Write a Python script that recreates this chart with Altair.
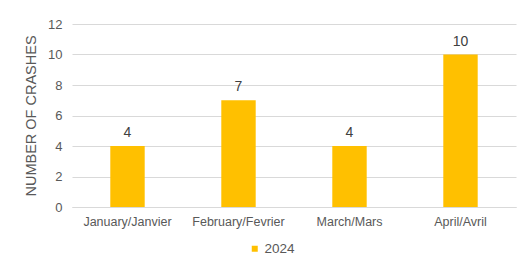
import altair as alt
import pandas as pd

months = ["January/Janvier", "February/Fevrier", "March/Mars", "April/Avril"]
crashes = [4, 7, 4, 10]
series = ["2024"] * 4

df = pd.DataFrame({"month": months, "crashes": crashes, "year": series})

FONT = "Liberation Sans"
GOLD = "#FFC000"

base = alt.Chart(df).encode(
    x=alt.X("month:N", sort=months, title=None,
            scale=alt.Scale(paddingInner=0.69, paddingOuter=0.345),
            axis=alt.Axis(labelAngle=0, labelFont=FONT, labelFontSize=12.5,
                          labelColor="#595959", ticks=False, domainColor="#d9d9d9",
                          labelPadding=8)),
    y=alt.Y("crashes:Q", title="NUMBER OF CRASHES",
            scale=alt.Scale(domain=[0, 12]),
            axis=alt.Axis(values=[0, 2, 4, 6, 8, 10, 12], labelFont=FONT,
                          labelFontSize=13, labelColor="#595959", ticks=False,
                          domain=False, gridColor="#d9d9d9", labelPadding=10,
                          titleFont=FONT, titleFontSize=14.5, titleFontWeight="normal",
                          titleColor="#595959", titlePadding=9)),
)

bars = base.mark_bar(color=GOLD).encode(
    color=alt.Color("year:N", scale=alt.Scale(range=[GOLD]),
                    legend=alt.Legend(title=None, orient="none", legendX=176, legendY=218,
                                      symbolType="square", symbolSize=36,
                                      labelFont=FONT, labelFontSize=13.5, labelOffset=3,
                                      labelColor="#595959", symbolStrokeWidth=0))
)

labels = base.mark_text(dy=-13, font=FONT, fontSize=14, color="#404040").encode(
    text="crashes:Q"
)

chart = (bars + labels).properties(
    width=444, height=183,
    autosize=alt.AutoSizeParams(type="none"),
    padding={"left": 64, "top": 16, "right": 3, "bottom": 54},
).configure_view(stroke=None)

chart.save("out.html", embed_options={"renderer": "svg", "actions": False})
